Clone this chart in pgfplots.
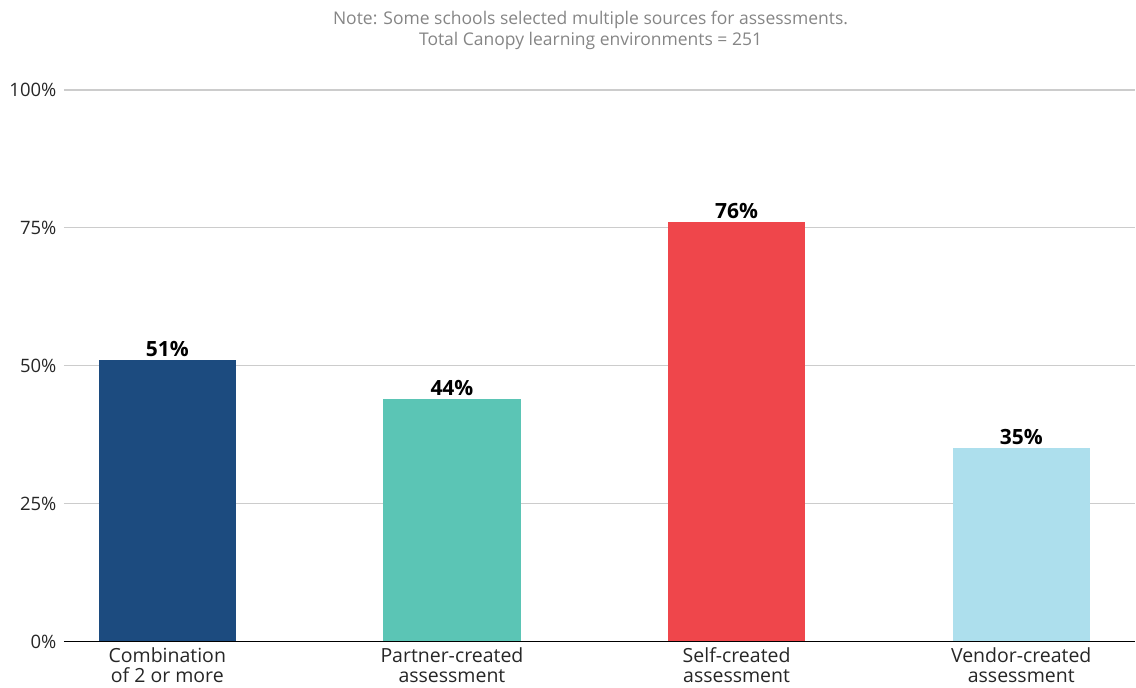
\documentclass[border=0pt]{standalone}
\usepackage{pgfplots}
\pgfplotsset{compat=1.18}
\usepackage{fontspec}
\setmainfont{Open Sans}

\definecolor{cDark}{HTML}{1C4B7F}
\definecolor{cTeal}{HTML}{5BC5B5}
\definecolor{cRed}{HTML}{EF464B}
\definecolor{cLight}{HTML}{ADDFED}
\definecolor{gridgray}{HTML}{CCCCCC}
\definecolor{notegray}{HTML}{858585}

\begin{document}
\begin{tikzpicture}
\begin{axis}[
  at={(0pt,0pt)}, anchor=south west,
  scale only axis,
  width=1072pt, height=552pt,
  xmin=-0.363, xmax=3.40,
  ymin=0, ymax=100,
  /pgf/number format/assume math mode=true,
  ytick={0,25,50,75,100},
  yticklabels={0\%,25\%,50\%,75\%,100\%},
  xtick={0,1,2,3},
  xticklabels={Combination\\of 2 or more, Partner-created\\assessment, Self-created\\assessment, Vendor-created\\assessment},
  xticklabel style={align=center, font=\fontsize{19.5}{19.5}\selectfont, text=black!85, yshift=-3pt},
  yticklabel style={font=\fontsize{18.5}{19}\selectfont, text=black!85, xshift=-4pt},
  axis line style={draw=none},
  major tick length=0pt,
  ymajorgrids, grid style={gridgray, line width=1.3pt},
  clip=false,
  bar width=0.482,
]
\addplot[ybar, fill=cDark, draw=none] coordinates {(0,51)};
\addplot[ybar, fill=cTeal, draw=none] coordinates {(1,44)};
\addplot[ybar, fill=cRed,  draw=none] coordinates {(2,76)};
\addplot[ybar, fill=cLight,draw=none] coordinates {(3,35)};
% value labels
\addplot[only marks, mark=none, nodes near coords={\pgfmathprintnumber{\pgfplotspointmeta}\%},
  nodes near coords style={font=\fontsize{21}{23}\selectfont\bfseries, text=black, anchor=south, yshift=0pt},
  point meta=explicit]
  coordinates {(0,51)[51] (1,44)[44] (2,76)[76] (3,35)[35]};
% baseline
\draw[black, line width=1.8pt] (axis cs:-0.363,0) -- (axis cs:3.40,0);
\node[align=center, font=\fontsize{17.5}{21}\selectfont, text=notegray, anchor=north]
  at (rel axis cs:0.4916,1) [yshift=82pt] {Note: Some schools selected multiple sources for assessments.\\Total Canopy learning environments = 251};
\end{axis}
\useasboundingbox (-64pt,-46pt) rectangle (1072pt,642pt);
\end{tikzpicture}
\end{document}
